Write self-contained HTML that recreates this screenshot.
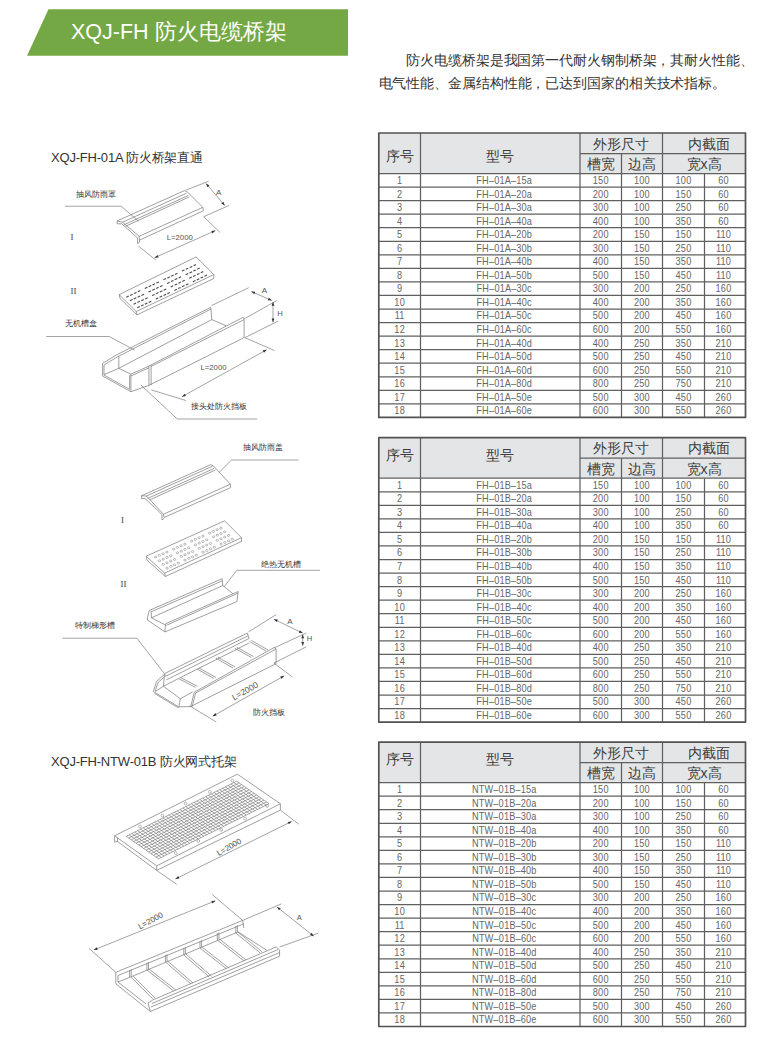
<!DOCTYPE html>
<html><head><meta charset="utf-8">
<style>
html,body{margin:0;padding:0;background:#fff;}
body{width:780px;height:1040px;position:relative;overflow:hidden;font-family:"Liberation Sans",sans-serif;}
.banner{position:absolute;left:0;top:0;}
.title{position:absolute;left:71px;top:17px;font-size:21.5px;color:#fff;white-space:nowrap;letter-spacing:0;}
.intro{position:absolute;left:378.5px;top:49.3px;width:400px;font-size:14px;letter-spacing:-0.1px;line-height:23px;color:#333;}
.intro p{margin:0;white-space:nowrap;}
.sec{position:absolute;left:51px;font-size:13px;letter-spacing:-0.2px;color:#333;white-space:nowrap;}
svg{position:absolute;left:0;top:0;}
.dr .s{fill:none;stroke:#777;stroke-width:0.7;stroke-linejoin:round;}
.dr .d{fill:none;stroke:#666;stroke-width:0.6;}
.dr .ah{fill:#333;stroke:none;}
.dr .hd{stroke:#4a4a4a;stroke-width:1.1;}
.dr .hc{fill:none;stroke:#777;stroke-width:0.5;}
.dr .g{stroke:#6f6f6f;stroke-width:0.6;}
.dr text{font-family:"Liberation Sans",sans-serif;}
.dr .lb{fill:#333;}
.dr .dl{fill:#555;text-anchor:middle;}
.dr .rn{font-family:"Liberation Serif",serif;fill:#444;}
.tb line{stroke:#606060;stroke-width:1.25;}
.tb .ob{fill:none;stroke:#525252;stroke-width:1.7;stroke-linejoin:round;}
.tb text{font-family:"Liberation Sans",sans-serif;text-anchor:middle;}
.tb .h{font-size:14px;fill:#3d3d3d;}
.tb .d{font-size:10.2px;fill:#666;letter-spacing:0.2px;}
</style></head>
<body>
<svg class="banner" width="780" height="60"><polygon points="48.5,9.2 348,9.2 348,55.7 27,55.7" fill="#74a845"/></svg>
<div class="title">XQJ-FH 防火电缆桥架</div>
<div class="intro"><p style="padding-left:27.8px">防火电缆桥架是我国第一代耐火钢制桥架，其耐火性能、</p><p>电气性能、金属结构性能，已达到国家的相关技术指标。</p></div>
<div class="sec" style="top:149px">XQJ-FH-01A 防火桥架直通</div>
<div class="sec" style="top:753px">XQJ-FH-NTW-01B 防火网式托架</div>
<svg width="780" height="1040">
<g class="dr">
<text class="lb" x="75.5" y="196.5" font-size="7.6">抽风防雨罩</text>
<polyline class="d" points="65.0,206.2 121.2,206.2 138.5,221.2"/>
<text class="rn" x="70.5" y="239.5" font-size="9">I</text>
<polyline class="s" points="117.1,223.8 117.1,221.0 184.4,190.6 187.6,192.2 202.8,207.3 203.4,210.8 139.5,240.1 139.2,236.3 122.5,222.2 117.1,221.0"/>
<line class="s" x1="122.5" y1="222.2" x2="186.5" y2="193.2"/>
<line class="s" x1="123.8" y1="224.8" x2="188.3" y2="195.5"/>
<line class="s" x1="125.5" y1="226.3" x2="189.5" y2="196.8"/>
<line class="s" x1="139.2" y1="236.3" x2="202.8" y2="207.3"/>
<polyline class="s" points="117.1,223.8 121.8,223.8 137.6,238.0 137.6,243.6 139.5,242.2 139.5,240.1"/>
<line class="d" x1="185.8" y1="190.2" x2="208.7" y2="181.2"/>
<line class="d" x1="206.0" y1="183.5" x2="224.8" y2="205.5"/>
<polygon class="ah" points="206.0,183.5 207.4,187.3 209.5,185.5"/>
<polygon class="ah" points="224.8,205.5 223.4,201.7 221.3,203.5"/>
<text class="dl" x="218.75" y="194.7" font-size="8">A</text>
<polyline class="d" points="228.9,205.5 203.7,216.7 219.9,232.4"/>
<line class="d" x1="138.5" y1="246.2" x2="155.8" y2="260.0"/>
<line class="d" x1="154.6" y1="257.7" x2="215.4" y2="230.6"/>
<polygon class="ah" points="154.6,257.7 158.6,257.4 157.5,254.9"/>
<polygon class="ah" points="215.4,230.6 211.4,230.9 212.5,233.4"/>
<text class="dl" x="179.75" y="239.9" font-size="7.8">L=2000</text>
<polygon class="s" points="119.2,294.6 196.2,256.9 213.8,274.6 136.2,311.5"/>
<polyline class="s" points="119.2,294.6 120.0,298.5 137.0,314.8 213.8,278.5 213.8,274.6"/>
<line class="s" x1="136.2" y1="311.5" x2="137.0" y2="314.8"/>
<line class="hd" x1="126.3" y1="297.2" x2="128.8" y2="296.0"/>
<line class="hd" x1="130.1" y1="295.4" x2="132.6" y2="294.2"/>
<line class="hd" x1="134.0" y1="293.6" x2="136.5" y2="292.4"/>
<line class="hd" x1="137.8" y1="291.8" x2="140.3" y2="290.6"/>
<line class="hd" x1="129.9" y1="300.8" x2="132.5" y2="299.6"/>
<line class="hd" x1="133.8" y1="299.0" x2="136.3" y2="297.8"/>
<line class="hd" x1="137.6" y1="297.2" x2="140.1" y2="296.0"/>
<line class="hd" x1="141.4" y1="295.4" x2="144.0" y2="294.2"/>
<line class="hd" x1="133.6" y1="304.3" x2="136.1" y2="303.1"/>
<line class="hd" x1="137.4" y1="302.5" x2="139.9" y2="301.3"/>
<line class="hd" x1="141.3" y1="300.7" x2="143.8" y2="299.5"/>
<line class="hd" x1="145.1" y1="298.9" x2="147.6" y2="297.7"/>
<line class="hd" x1="137.2" y1="307.8" x2="139.8" y2="306.6"/>
<line class="hd" x1="141.1" y1="306.0" x2="143.6" y2="304.8"/>
<line class="hd" x1="144.9" y1="304.2" x2="147.4" y2="303.0"/>
<line class="hd" x1="148.7" y1="302.4" x2="151.3" y2="301.2"/>
<line class="hd" x1="144.8" y1="288.5" x2="147.4" y2="287.3"/>
<line class="hd" x1="148.7" y1="286.7" x2="151.2" y2="285.5"/>
<line class="hd" x1="152.5" y1="284.9" x2="155.1" y2="283.7"/>
<line class="hd" x1="156.4" y1="283.1" x2="158.9" y2="282.0"/>
<line class="hd" x1="148.5" y1="292.1" x2="151.0" y2="290.9"/>
<line class="hd" x1="152.3" y1="290.3" x2="154.9" y2="289.1"/>
<line class="hd" x1="156.2" y1="288.5" x2="158.7" y2="287.3"/>
<line class="hd" x1="160.0" y1="286.7" x2="162.5" y2="285.5"/>
<line class="hd" x1="152.1" y1="295.6" x2="154.7" y2="294.4"/>
<line class="hd" x1="156.0" y1="293.8" x2="158.5" y2="292.6"/>
<line class="hd" x1="159.8" y1="292.0" x2="162.4" y2="290.8"/>
<line class="hd" x1="163.7" y1="290.2" x2="166.2" y2="289.0"/>
<line class="hd" x1="155.8" y1="299.1" x2="158.3" y2="297.9"/>
<line class="hd" x1="159.6" y1="297.3" x2="162.2" y2="296.1"/>
<line class="hd" x1="163.5" y1="295.5" x2="166.0" y2="294.3"/>
<line class="hd" x1="167.3" y1="293.7" x2="169.8" y2="292.5"/>
<line class="hd" x1="163.4" y1="279.8" x2="165.9" y2="278.6"/>
<line class="hd" x1="167.3" y1="278.0" x2="169.8" y2="276.9"/>
<line class="hd" x1="171.1" y1="276.2" x2="173.6" y2="275.1"/>
<line class="hd" x1="174.9" y1="274.4" x2="177.5" y2="273.3"/>
<line class="hd" x1="167.1" y1="283.4" x2="169.6" y2="282.2"/>
<line class="hd" x1="170.9" y1="281.6" x2="173.4" y2="280.4"/>
<line class="hd" x1="174.7" y1="279.8" x2="177.3" y2="278.6"/>
<line class="hd" x1="178.6" y1="278.0" x2="181.1" y2="276.8"/>
<line class="hd" x1="170.7" y1="286.9" x2="173.2" y2="285.7"/>
<line class="hd" x1="174.6" y1="285.1" x2="177.1" y2="283.9"/>
<line class="hd" x1="178.4" y1="283.3" x2="180.9" y2="282.1"/>
<line class="hd" x1="182.2" y1="281.5" x2="184.8" y2="280.3"/>
<line class="hd" x1="174.4" y1="290.4" x2="176.9" y2="289.2"/>
<line class="hd" x1="178.2" y1="288.6" x2="180.7" y2="287.4"/>
<line class="hd" x1="182.0" y1="286.8" x2="184.6" y2="285.6"/>
<line class="hd" x1="185.9" y1="285.0" x2="188.4" y2="283.8"/>
<line class="hd" x1="182.0" y1="271.1" x2="184.5" y2="270.0"/>
<line class="hd" x1="185.8" y1="269.3" x2="188.3" y2="268.2"/>
<line class="hd" x1="189.7" y1="267.5" x2="192.2" y2="266.4"/>
<line class="hd" x1="193.5" y1="265.7" x2="196.0" y2="264.6"/>
<line class="hd" x1="185.6" y1="274.7" x2="188.2" y2="273.5"/>
<line class="hd" x1="189.5" y1="272.9" x2="192.0" y2="271.7"/>
<line class="hd" x1="193.3" y1="271.1" x2="195.8" y2="269.9"/>
<line class="hd" x1="197.1" y1="269.3" x2="199.7" y2="268.1"/>
<line class="hd" x1="189.3" y1="278.2" x2="191.8" y2="277.0"/>
<line class="hd" x1="193.1" y1="276.4" x2="195.6" y2="275.2"/>
<line class="hd" x1="197.0" y1="274.6" x2="199.5" y2="273.4"/>
<line class="hd" x1="200.8" y1="272.8" x2="203.3" y2="271.6"/>
<line class="hd" x1="192.9" y1="281.7" x2="195.5" y2="280.5"/>
<line class="hd" x1="196.8" y1="279.9" x2="199.3" y2="278.7"/>
<line class="hd" x1="200.6" y1="278.1" x2="203.1" y2="276.9"/>
<line class="hd" x1="204.4" y1="276.3" x2="207.0" y2="275.1"/>
<text class="rn" x="70.5" y="293.8" font-size="9">II</text>
<text class="lb" x="64.5" y="326.2" font-size="7.6">无机槽盒</text>
<polyline class="d" points="46.2,336.5 109.2,336.5 134.6,350.0"/>
<polyline class="s" points="102.6,376.0 102.6,363.4 116.5,354.9 210.8,307.3 211.8,319.6 226.2,325.8"/>
<line class="s" x1="104.0" y1="365.0" x2="117.5" y2="356.8"/>
<line class="s" x1="117.5" y1="356.8" x2="211.0" y2="309.0"/>
<line class="s" x1="104.0" y1="365.0" x2="104.0" y2="375.0"/>
<line class="s" x1="118.8" y1="356.2" x2="118.8" y2="368.3"/>
<line class="s" x1="104.0" y1="374.6" x2="118.8" y2="368.3"/>
<line class="s" x1="118.8" y1="368.3" x2="211.8" y2="319.6"/>
<line class="s" x1="118.8" y1="368.3" x2="130.9" y2="374.2"/>
<polyline class="s" points="102.6,376.0 130.9,391.7 148.9,385.4 244.1,337.6 244.1,318.0"/>
<line class="s" x1="104.0" y1="375.0" x2="129.6" y2="389.4"/>
<polyline class="s" points="130.9,391.7 130.9,374.2 148.9,366.1"/>
<line class="s" x1="129.6" y1="389.4" x2="129.6" y2="375.0"/>
<line class="s" x1="130.9" y1="376.0" x2="148.9" y2="367.8"/>
<line class="s" x1="148.9" y1="385.4" x2="148.9" y2="366.1"/>
<line class="s" x1="151.1" y1="385.0" x2="151.1" y2="365.0"/>
<polyline class="s" points="148.9,366.1 242.6,317.6 244.1,318.0"/>
<line class="s" x1="151.1" y1="366.4" x2="244.1" y2="319.6"/>
<line class="d" x1="211.5" y1="305.6" x2="248.7" y2="287.7"/>
<line class="d" x1="244.9" y1="318.5" x2="276.9" y2="300.5"/>
<line class="d" x1="251.3" y1="291.5" x2="271.8" y2="300.5"/>
<polygon class="ah" points="251.3,291.5 254.2,294.3 255.3,291.8"/>
<polygon class="ah" points="271.8,300.5 268.9,297.7 267.8,300.2"/>
<text class="dl" x="264.5" y="293.1" font-size="8">A</text>
<line class="d" x1="273.0" y1="302.0" x2="273.0" y2="322.3"/>
<polygon class="ah" points="273.0,302.0 271.6,305.8 274.4,305.8"/>
<polygon class="ah" points="273.0,322.3 274.4,318.5 271.6,318.5"/>
<line class="d" x1="244.9" y1="337.7" x2="278.2" y2="321.0"/>
<text class="dl" x="279.9" y="315.9" font-size="7.6">H</text>
<line class="d" x1="244.9" y1="337.7" x2="274.4" y2="350.5"/>
<line class="d" x1="151.5" y1="390.0" x2="185.9" y2="400.5"/>
<line class="d" x1="182.0" y1="396.7" x2="266.7" y2="349.7"/>
<polygon class="ah" points="182.0,396.7 186.0,396.1 184.7,393.7"/>
<polygon class="ah" points="266.7,349.7 262.7,350.3 264.0,352.7"/>
<text class="dl" x="213.5" y="369.9" font-size="7.8">L=2000</text>
<text class="lb" x="191" y="409" font-size="7.6">接头处防火挡板</text>
<polyline class="d" points="141.0,385.0 177.2,419.0 257.2,419.0"/>
<text class="lb" x="242.5" y="449.5" font-size="7.6">抽风防雨盖</text>
<polyline class="d" points="298.5,460.0 231.5,460.0 218.8,472.7"/>
<polyline class="s" points="141.5,498.5 141.5,495.8 210.8,464.6 213.5,466.0 230.4,484.2 230.4,487.7 164.0,517.5 163.5,514.2 146.5,496.0 141.5,495.8"/>
<line class="s" x1="146.5" y1="496.0" x2="212.5" y2="466.2"/>
<line class="s" x1="147.5" y1="498.5" x2="214.0" y2="468.5"/>
<line class="s" x1="149.5" y1="500.0" x2="215.5" y2="470.0"/>
<line class="s" x1="163.5" y1="514.2" x2="230.4" y2="484.2"/>
<polyline class="s" points="141.5,498.5 145.0,498.5 162.0,514.5 162.0,520.0 164.0,518.5"/>
<text class="rn" x="121" y="522.5" font-size="9">I</text>
<polygon class="s" points="146.2,556.2 224.6,520.8 241.5,537.7 164.6,573.1"/>
<polyline class="s" points="146.2,556.2 146.9,560.0 165.4,576.5 241.5,541.5 241.5,537.7"/>
<line class="s" x1="164.6" y1="573.1" x2="165.4" y2="576.5"/>
<ellipse class="hc" cx="155.7" cy="557.1" rx="1.2" ry="0.96"/>
<ellipse class="hc" cx="159.4" cy="555.4" rx="1.2" ry="0.96"/>
<ellipse class="hc" cx="163.1" cy="553.8" rx="1.2" ry="0.96"/>
<ellipse class="hc" cx="166.9" cy="552.1" rx="1.2" ry="0.96"/>
<ellipse class="hc" cx="159.5" cy="560.7" rx="1.2" ry="0.96"/>
<ellipse class="hc" cx="163.2" cy="559.1" rx="1.2" ry="0.96"/>
<ellipse class="hc" cx="166.9" cy="557.4" rx="1.2" ry="0.96"/>
<ellipse class="hc" cx="170.7" cy="555.8" rx="1.2" ry="0.96"/>
<ellipse class="hc" cx="163.3" cy="564.4" rx="1.2" ry="0.96"/>
<ellipse class="hc" cx="167.0" cy="562.8" rx="1.2" ry="0.96"/>
<ellipse class="hc" cx="170.7" cy="561.1" rx="1.2" ry="0.96"/>
<ellipse class="hc" cx="174.5" cy="559.5" rx="1.2" ry="0.96"/>
<ellipse class="hc" cx="167.1" cy="568.1" rx="1.2" ry="0.96"/>
<ellipse class="hc" cx="170.8" cy="566.4" rx="1.2" ry="0.96"/>
<ellipse class="hc" cx="174.5" cy="564.8" rx="1.2" ry="0.96"/>
<ellipse class="hc" cx="178.3" cy="563.1" rx="1.2" ry="0.96"/>
<ellipse class="hc" cx="173.7" cy="549.1" rx="1.2" ry="0.96"/>
<ellipse class="hc" cx="177.4" cy="547.4" rx="1.2" ry="0.96"/>
<ellipse class="hc" cx="181.1" cy="545.8" rx="1.2" ry="0.96"/>
<ellipse class="hc" cx="184.9" cy="544.1" rx="1.2" ry="0.96"/>
<ellipse class="hc" cx="177.5" cy="552.8" rx="1.2" ry="0.96"/>
<ellipse class="hc" cx="181.2" cy="551.1" rx="1.2" ry="0.96"/>
<ellipse class="hc" cx="184.9" cy="549.4" rx="1.2" ry="0.96"/>
<ellipse class="hc" cx="188.7" cy="547.8" rx="1.2" ry="0.96"/>
<ellipse class="hc" cx="181.3" cy="556.4" rx="1.2" ry="0.96"/>
<ellipse class="hc" cx="185.0" cy="554.8" rx="1.2" ry="0.96"/>
<ellipse class="hc" cx="188.7" cy="553.1" rx="1.2" ry="0.96"/>
<ellipse class="hc" cx="192.5" cy="551.5" rx="1.2" ry="0.96"/>
<ellipse class="hc" cx="185.1" cy="560.1" rx="1.2" ry="0.96"/>
<ellipse class="hc" cx="188.8" cy="558.4" rx="1.2" ry="0.96"/>
<ellipse class="hc" cx="192.5" cy="556.8" rx="1.2" ry="0.96"/>
<ellipse class="hc" cx="196.3" cy="555.1" rx="1.2" ry="0.96"/>
<ellipse class="hc" cx="191.7" cy="541.1" rx="1.2" ry="0.96"/>
<ellipse class="hc" cx="195.4" cy="539.4" rx="1.2" ry="0.96"/>
<ellipse class="hc" cx="199.1" cy="537.8" rx="1.2" ry="0.96"/>
<ellipse class="hc" cx="202.9" cy="536.1" rx="1.2" ry="0.96"/>
<ellipse class="hc" cx="195.5" cy="544.8" rx="1.2" ry="0.96"/>
<ellipse class="hc" cx="199.2" cy="543.1" rx="1.2" ry="0.96"/>
<ellipse class="hc" cx="202.9" cy="541.5" rx="1.2" ry="0.96"/>
<ellipse class="hc" cx="206.7" cy="539.8" rx="1.2" ry="0.96"/>
<ellipse class="hc" cx="199.3" cy="548.4" rx="1.2" ry="0.96"/>
<ellipse class="hc" cx="203.0" cy="546.8" rx="1.2" ry="0.96"/>
<ellipse class="hc" cx="206.7" cy="545.1" rx="1.2" ry="0.96"/>
<ellipse class="hc" cx="210.5" cy="543.5" rx="1.2" ry="0.96"/>
<ellipse class="hc" cx="203.1" cy="552.1" rx="1.2" ry="0.96"/>
<ellipse class="hc" cx="206.8" cy="550.5" rx="1.2" ry="0.96"/>
<ellipse class="hc" cx="210.5" cy="548.8" rx="1.2" ry="0.96"/>
<ellipse class="hc" cx="214.3" cy="547.2" rx="1.2" ry="0.96"/>
<ellipse class="hc" cx="209.7" cy="533.1" rx="1.2" ry="0.96"/>
<ellipse class="hc" cx="213.4" cy="531.5" rx="1.2" ry="0.96"/>
<ellipse class="hc" cx="217.1" cy="529.8" rx="1.2" ry="0.96"/>
<ellipse class="hc" cx="220.9" cy="528.2" rx="1.2" ry="0.96"/>
<ellipse class="hc" cx="213.5" cy="536.8" rx="1.2" ry="0.96"/>
<ellipse class="hc" cx="217.2" cy="535.1" rx="1.2" ry="0.96"/>
<ellipse class="hc" cx="220.9" cy="533.5" rx="1.2" ry="0.96"/>
<ellipse class="hc" cx="224.7" cy="531.8" rx="1.2" ry="0.96"/>
<ellipse class="hc" cx="217.3" cy="540.4" rx="1.2" ry="0.96"/>
<ellipse class="hc" cx="221.0" cy="538.8" rx="1.2" ry="0.96"/>
<ellipse class="hc" cx="224.7" cy="537.1" rx="1.2" ry="0.96"/>
<ellipse class="hc" cx="228.5" cy="535.5" rx="1.2" ry="0.96"/>
<ellipse class="hc" cx="221.1" cy="544.1" rx="1.2" ry="0.96"/>
<ellipse class="hc" cx="224.8" cy="542.5" rx="1.2" ry="0.96"/>
<ellipse class="hc" cx="228.5" cy="540.8" rx="1.2" ry="0.96"/>
<ellipse class="hc" cx="232.3" cy="539.2" rx="1.2" ry="0.96"/>
<text class="lb" x="261.4" y="566.5" font-size="7.6">绝热无机槽</text>
<polyline class="d" points="320.0,570.3 236.8,570.3 224.1,586.7"/>
<text class="rn" x="120.5" y="586.8" font-size="9">II</text>
<polyline class="s" points="147.4,617.8 149.4,610.4 222.1,578.7 222.8,585.5"/>
<line class="s" x1="150.3" y1="612.2" x2="222.4" y2="580.8"/>
<line class="s" x1="151.4" y1="617.8" x2="222.8" y2="585.5"/>
<line class="s" x1="222.8" y1="585.5" x2="232.9" y2="593.6"/>
<line class="s" x1="151.4" y1="612.5" x2="151.4" y2="617.8"/>
<polyline class="s" points="147.4,617.8 147.4,620.0 164.9,631.9 236.9,601.6 238.2,591.5"/>
<polyline class="s" points="164.9,631.9 165.6,623.8 238.2,591.5"/>
<line class="s" x1="166.5" y1="625.3" x2="238.0" y2="593.2"/>
<line class="s" x1="151.4" y1="617.8" x2="165.6" y2="625.0"/>
<text class="lb" x="75" y="627.7" font-size="7.6">特制梯形槽</text>
<polyline class="d" points="62.4,638.2 136.9,638.2 165.7,675.4"/>
<line class="s" x1="164.7" y1="673.5" x2="247.3" y2="633.1"/>
<line class="s" x1="165.6" y1="676.2" x2="248.2" y2="635.8"/>
<line class="s" x1="166.5" y1="679.8" x2="249.1" y2="638.5"/>
<line class="s" x1="247.3" y1="633.1" x2="249.1" y2="638.5"/>
<line class="s" x1="164.5" y1="674.2" x2="163.4" y2="686.2"/>
<polyline class="s" points="164.5,674.2 156.5,681.5 153.4,691.5 178.8,706.9 180.3,698.8 192.6,691.9"/>
<polyline class="s" points="165.5,676.0 158.0,682.5 155.2,691.2"/>
<line class="s" x1="154.5" y1="693.3" x2="178.5" y2="708.0"/>
<line class="s" x1="163.4" y1="686.2" x2="249.1" y2="643.0"/>
<line class="s" x1="155.3" y1="691.5" x2="163.4" y2="686.2"/>
<line class="s" x1="163.4" y1="686.2" x2="180.3" y2="698.8"/>
<line class="s" x1="178.8" y1="706.9" x2="190.8" y2="706.5"/>
<line class="s" x1="179.1" y1="678.9" x2="195.5" y2="687.3"/>
<line class="s" x1="181.1" y1="677.9" x2="197.5" y2="686.3"/>
<line class="s" x1="197.1" y1="669.0" x2="214.0" y2="678.5"/>
<line class="s" x1="199.1" y1="668.0" x2="216.0" y2="677.5"/>
<line class="s" x1="215.9" y1="658.2" x2="233.0" y2="668.0"/>
<line class="s" x1="217.9" y1="657.2" x2="235.0" y2="667.0"/>
<line class="s" x1="234.8" y1="648.3" x2="251.5" y2="657.5"/>
<line class="s" x1="236.8" y1="647.3" x2="253.5" y2="656.5"/>
<line class="s" x1="249.5" y1="641.5" x2="266.0" y2="651.0"/>
<line class="s" x1="251.5" y1="640.5" x2="268.0" y2="650.0"/>
<polyline class="s" points="194.2,692.3 274.3,647.4 276.1,649.0 276.1,663.6 190.8,706.5 194.2,692.3"/>
<line class="s" x1="195.6" y1="693.0" x2="276.1" y2="649.0"/>
<line class="s" x1="195.6" y1="693.0" x2="192.2" y2="706.5"/>
<line class="d" x1="248.5" y1="631.9" x2="276.2" y2="614.6"/>
<line class="d" x1="273.9" y1="619.2" x2="302.7" y2="633.1"/>
<polygon class="ah" points="273.9,619.2 276.7,622.1 277.9,619.6"/>
<polygon class="ah" points="302.7,633.1 299.9,630.2 298.7,632.7"/>
<text class="dl" x="290" y="623.8" font-size="8">A</text>
<line class="d" x1="273.9" y1="648.0" x2="306.2" y2="633.1"/>
<line class="d" x1="302.7" y1="634.5" x2="302.7" y2="645.8"/>
<polygon class="ah" points="302.7,634.5 301.3,638.3 304.1,638.3"/>
<polygon class="ah" points="302.7,645.8 304.1,642.0 301.3,642.0"/>
<text class="dl" x="309.6" y="641.2" font-size="7.6">H</text>
<line class="d" x1="273.9" y1="663.0" x2="306.2" y2="646.9"/>
<line class="d" x1="273.9" y1="663.0" x2="292.3" y2="676.9"/>
<line class="d" x1="189.6" y1="705.8" x2="216.2" y2="721.9"/>
<line class="d" x1="212.7" y1="716.2" x2="284.2" y2="675.8"/>
<polygon class="ah" points="212.7,716.2 216.7,715.5 215.3,713.1"/>
<polygon class="ah" points="284.2,675.8 280.2,676.5 281.6,678.9"/>
<text class="dl" x="246.5" y="693.5" font-size="8.5" transform="rotate(-29 246.5 693.5)">L=2000</text>
<text class="lb" x="253" y="715.2" font-size="7.6">防火挡板</text>
<polygon class="s" points="114.6,835.8 237.4,774.2 280.4,803.8 156.7,865.8"/>
<polyline class="s" points="114.6,835.8 114.6,842.1 117.5,841.5 156.7,870.4 280.4,810.1 280.4,803.8"/>
<line class="s" x1="156.7" y1="865.8" x2="156.7" y2="870.4"/>
<line class="s" x1="117.5" y1="841.5" x2="117.5" y2="837.5"/>
<line class="g" x1="126.2" y1="836.3" x2="158.5" y2="858.8"/>
<line class="g" x1="129.0" y1="834.9" x2="161.3" y2="857.4"/>
<line class="g" x1="131.9" y1="833.5" x2="164.2" y2="856.0"/>
<line class="g" x1="134.7" y1="832.1" x2="167.0" y2="854.6"/>
<line class="g" x1="137.5" y1="830.6" x2="169.8" y2="853.1"/>
<line class="g" x1="140.4" y1="829.2" x2="172.7" y2="851.7"/>
<line class="g" x1="143.2" y1="827.8" x2="175.5" y2="850.3"/>
<line class="g" x1="146.0" y1="826.4" x2="178.3" y2="848.9"/>
<line class="g" x1="148.9" y1="825.0" x2="181.2" y2="847.5"/>
<line class="g" x1="151.7" y1="823.6" x2="184.0" y2="846.1"/>
<line class="g" x1="154.5" y1="822.2" x2="186.8" y2="844.7"/>
<line class="g" x1="157.4" y1="820.8" x2="189.7" y2="843.3"/>
<line class="g" x1="160.2" y1="819.3" x2="192.5" y2="841.8"/>
<line class="g" x1="163.0" y1="817.9" x2="195.3" y2="840.4"/>
<line class="g" x1="165.9" y1="816.5" x2="198.2" y2="839.0"/>
<line class="g" x1="168.7" y1="815.1" x2="201.0" y2="837.6"/>
<line class="g" x1="171.5" y1="813.7" x2="203.8" y2="836.2"/>
<line class="g" x1="174.4" y1="812.3" x2="206.7" y2="834.8"/>
<line class="g" x1="177.2" y1="810.9" x2="209.5" y2="833.4"/>
<line class="g" x1="180.0" y1="809.5" x2="212.3" y2="832.0"/>
<line class="g" x1="182.9" y1="808.0" x2="215.2" y2="830.5"/>
<line class="g" x1="185.7" y1="806.6" x2="218.0" y2="829.1"/>
<line class="g" x1="188.5" y1="805.2" x2="220.8" y2="827.7"/>
<line class="g" x1="191.4" y1="803.8" x2="223.7" y2="826.3"/>
<line class="g" x1="194.2" y1="802.4" x2="226.5" y2="824.9"/>
<line class="g" x1="197.0" y1="801.0" x2="229.3" y2="823.5"/>
<line class="g" x1="199.9" y1="799.6" x2="232.2" y2="822.1"/>
<line class="g" x1="202.7" y1="798.2" x2="235.0" y2="820.7"/>
<line class="g" x1="205.5" y1="796.7" x2="237.8" y2="819.2"/>
<line class="g" x1="208.4" y1="795.3" x2="240.7" y2="817.8"/>
<line class="g" x1="211.2" y1="793.9" x2="243.5" y2="816.4"/>
<line class="g" x1="214.0" y1="792.5" x2="246.3" y2="815.0"/>
<line class="g" x1="216.9" y1="791.1" x2="249.2" y2="813.6"/>
<line class="g" x1="219.7" y1="789.7" x2="252.0" y2="812.2"/>
<line class="g" x1="222.5" y1="788.3" x2="254.8" y2="810.8"/>
<line class="g" x1="225.4" y1="786.9" x2="257.7" y2="809.4"/>
<line class="g" x1="228.2" y1="785.4" x2="260.5" y2="807.9"/>
<line class="g" x1="231.0" y1="784.0" x2="263.3" y2="806.5"/>
<line class="g" x1="233.9" y1="782.6" x2="266.2" y2="805.1"/>
<line class="g" x1="236.7" y1="781.2" x2="269.0" y2="803.7"/>
<line class="g" x1="126.2" y1="836.3" x2="236.7" y2="781.2"/>
<line class="g" x1="128.7" y1="838.0" x2="239.2" y2="782.9"/>
<line class="g" x1="131.2" y1="839.8" x2="241.7" y2="784.7"/>
<line class="g" x1="133.7" y1="841.5" x2="244.2" y2="786.4"/>
<line class="g" x1="136.1" y1="843.2" x2="246.6" y2="788.1"/>
<line class="g" x1="138.6" y1="845.0" x2="249.1" y2="789.9"/>
<line class="g" x1="141.1" y1="846.7" x2="251.6" y2="791.6"/>
<line class="g" x1="143.6" y1="848.4" x2="254.1" y2="793.3"/>
<line class="g" x1="146.1" y1="850.1" x2="256.6" y2="795.0"/>
<line class="g" x1="148.6" y1="851.9" x2="259.1" y2="796.8"/>
<line class="g" x1="151.0" y1="853.6" x2="261.5" y2="798.5"/>
<line class="g" x1="153.5" y1="855.3" x2="264.0" y2="800.2"/>
<line class="g" x1="156.0" y1="857.1" x2="266.5" y2="802.0"/>
<line class="g" x1="158.5" y1="858.8" x2="269.0" y2="803.7"/>
<circle class="hc" cx="140" cy="826.5" r="1.4"/>
<circle class="hc" cx="162.5" cy="815.6" r="1.4"/>
<circle class="hc" cx="185.6" cy="803.5" r="1.4"/>
<circle class="hc" cx="209.9" cy="791.8" r="1.4"/>
<circle class="hc" cx="232.4" cy="780.5" r="1.4"/>
<circle class="hc" cx="267" cy="805.9" r="1.4"/>
<circle class="hc" cx="245.1" cy="818.6" r="1.4"/>
<circle class="hc" cx="221.2" cy="829.9" r="1.4"/>
<circle class="hc" cx="198.3" cy="841" r="1.4"/>
<circle class="hc" cx="175.8" cy="853.1" r="1.4"/>
<line class="d" x1="156.7" y1="870.4" x2="176.7" y2="884.4"/>
<line class="d" x1="280.4" y1="810.1" x2="298.7" y2="824.2"/>
<line class="d" x1="175.4" y1="879.0" x2="291.7" y2="821.4"/>
<polygon class="ah" points="175.4,879.0 179.4,878.5 178.2,876.1"/>
<polygon class="ah" points="291.7,821.4 287.7,821.9 288.9,824.3"/>
<text class="dl" x="230.4" y="849.4" font-size="8" transform="rotate(-30 230.4 849.4)">L=2000</text>
<line class="s" x1="115.8" y1="972.3" x2="242.7" y2="920.4"/>
<line class="s" x1="118.0" y1="975.5" x2="243.8" y2="923.8"/>
<line class="s" x1="242.7" y1="920.4" x2="243.8" y2="928.0"/>
<line class="s" x1="130.8" y1="976.9" x2="238.1" y2="931.9"/>
<line class="s" x1="238.1" y1="931.9" x2="266.9" y2="950.4"/>
<polyline class="s" points="115.8,972.3 115.8,983.8 150.4,1011.5"/>
<polyline class="s" points="118.0,975.5 118.0,982.0 146.0,1004.0"/>
<line class="s" x1="118.0" y1="982.0" x2="130.8" y2="976.9"/>
<line class="s" x1="129.6" y1="970.0" x2="129.6" y2="977.0"/>
<line class="s" x1="131.2" y1="969.3" x2="131.2" y2="976.3"/>
<line class="s" x1="146.9" y1="963.0" x2="146.9" y2="970.0"/>
<line class="s" x1="148.5" y1="962.3" x2="148.5" y2="969.3"/>
<line class="s" x1="165.4" y1="955.0" x2="165.4" y2="962.0"/>
<line class="s" x1="167.0" y1="954.3" x2="167.0" y2="961.3"/>
<line class="s" x1="183.8" y1="948.0" x2="183.8" y2="955.0"/>
<line class="s" x1="185.4" y1="947.3" x2="185.4" y2="954.3"/>
<line class="s" x1="200.0" y1="941.0" x2="200.0" y2="948.0"/>
<line class="s" x1="201.6" y1="940.3" x2="201.6" y2="947.3"/>
<line class="s" x1="217.3" y1="933.0" x2="217.3" y2="940.0"/>
<line class="s" x1="218.9" y1="932.3" x2="218.9" y2="939.3"/>
<line class="s" x1="235.8" y1="926.0" x2="235.8" y2="933.0"/>
<line class="s" x1="237.4" y1="925.3" x2="237.4" y2="932.3"/>
<line class="s" x1="130.8" y1="976.9" x2="152.7" y2="998.9"/>
<line class="s" x1="133.0" y1="976.0" x2="154.9" y2="998.0"/>
<line class="s" x1="146.9" y1="970.0" x2="173.5" y2="990.8"/>
<line class="s" x1="149.1" y1="969.1" x2="175.7" y2="989.9"/>
<line class="s" x1="165.4" y1="961.9" x2="190.8" y2="983.9"/>
<line class="s" x1="167.6" y1="961.0" x2="193.0" y2="983.0"/>
<line class="s" x1="183.8" y1="955.0" x2="209.2" y2="976.9"/>
<line class="s" x1="186.0" y1="954.1" x2="211.4" y2="976.0"/>
<line class="s" x1="200.0" y1="948.1" x2="226.5" y2="968.8"/>
<line class="s" x1="202.2" y1="947.2" x2="228.7" y2="967.9"/>
<line class="s" x1="217.3" y1="940.0" x2="243.8" y2="960.8"/>
<line class="s" x1="219.5" y1="939.1" x2="246.0" y2="959.9"/>
<line class="s" x1="235.8" y1="933.1" x2="260.0" y2="952.7"/>
<line class="s" x1="238.0" y1="932.2" x2="262.2" y2="951.8"/>
<polyline class="s" points="148.0,1003.0 152.7,1000.0 276.2,946.9 279.6,950.0 279.6,956.2 150.4,1011.5 148.0,1003.0"/>
<line class="s" x1="152.0" y1="1003.5" x2="278.0" y2="949.5"/>
<line class="s" x1="151.0" y1="1007.0" x2="279.6" y2="952.5"/>
<line class="d" x1="115.8" y1="972.3" x2="89.2" y2="948.5"/>
<line class="d" x1="242.7" y1="920.4" x2="212.3" y2="894.6"/>
<line class="d" x1="93.8" y1="950.0" x2="215.4" y2="900.8"/>
<polygon class="ah" points="93.8,950.0 97.8,949.8 96.8,947.3"/>
<polygon class="ah" points="215.4,900.8 211.4,901.0 212.4,903.5"/>
<text class="dl" x="151.8" y="923" font-size="8" transform="rotate(-28.5 151.8 923)">L=2000</text>
<line class="d" x1="242.7" y1="920.4" x2="281.5" y2="903.8"/>
<line class="d" x1="279.6" y1="947.0" x2="318.5" y2="933.1"/>
<line class="d" x1="276.9" y1="906.9" x2="313.8" y2="936.2"/>
<polygon class="ah" points="276.9,906.9 279.0,910.3 280.7,908.2"/>
<polygon class="ah" points="313.8,936.2 311.7,932.8 310.0,934.9"/>
<text class="dl" x="299.4" y="919.6" font-size="7.6">A</text>
</g>
</svg>
<svg class="tb" width="780" height="1040">
<rect x="378.8" y="133.0" width="366.7" height="40.5" fill="#e4e5e7"/>
<line x1="580.0" y1="153.5" x2="745.5" y2="153.5"/>
<line x1="378.8" y1="173.5" x2="745.5" y2="173.5"/>
<line x1="378.8" y1="187.05" x2="745.5" y2="187.05"/>
<line x1="378.8" y1="200.6" x2="745.5" y2="200.6"/>
<line x1="378.8" y1="214.15" x2="745.5" y2="214.15"/>
<line x1="378.8" y1="227.7" x2="745.5" y2="227.7"/>
<line x1="378.8" y1="241.25" x2="745.5" y2="241.25"/>
<line x1="378.8" y1="254.8" x2="745.5" y2="254.8"/>
<line x1="378.8" y1="268.35" x2="745.5" y2="268.35"/>
<line x1="378.8" y1="281.9" x2="745.5" y2="281.9"/>
<line x1="378.8" y1="295.45" x2="745.5" y2="295.45"/>
<line x1="378.8" y1="309.0" x2="745.5" y2="309.0"/>
<line x1="378.8" y1="322.55" x2="745.5" y2="322.55"/>
<line x1="378.8" y1="336.1" x2="745.5" y2="336.1"/>
<line x1="378.8" y1="349.65" x2="745.5" y2="349.65"/>
<line x1="378.8" y1="363.2" x2="745.5" y2="363.2"/>
<line x1="378.8" y1="376.75" x2="745.5" y2="376.75"/>
<line x1="378.8" y1="390.3" x2="745.5" y2="390.3"/>
<line x1="378.8" y1="403.85" x2="745.5" y2="403.85"/>
<line x1="420.5" y1="133.0" x2="420.5" y2="417.4"/>
<line x1="580.0" y1="133.0" x2="580.0" y2="417.4"/>
<line x1="621.5" y1="153.5" x2="621.5" y2="417.4"/>
<line x1="662.5" y1="133.0" x2="662.5" y2="417.4"/>
<line x1="704.5" y1="173.5" x2="704.5" y2="417.4"/>
<rect class="ob" x="378.8" y="133.0" width="366.7" height="284.4"/>
<text class="h" x="399.65" y="160.5">序号</text>
<text class="h" x="500.25" y="160.5">型号</text>
<text class="h" x="621.25" y="148.5">外形尺寸</text>
<text class="h" x="709.0" y="148.5">内截面</text>
<text class="h" x="600.75" y="169.0">槽宽</text>
<text class="h" x="642.0" y="169.0">边高</text>
<text class="h" x="704.0" y="169.0">宽x高</text>
<g transform="scale(0.9,1)">
<text class="d" x="444.06" y="184.0">1</text>
<text class="d" x="560.28" y="184.0">FH–01A–15a</text>
<text class="d" x="667.5" y="184.0">150</text>
<text class="d" x="713.33" y="184.0">100</text>
<text class="d" x="759.44" y="184.0">100</text>
<text class="d" x="803.89" y="184.0">60</text>
<text class="d" x="444.06" y="197.55">2</text>
<text class="d" x="560.28" y="197.55">FH–01A–20a</text>
<text class="d" x="667.5" y="197.55">200</text>
<text class="d" x="713.33" y="197.55">100</text>
<text class="d" x="759.44" y="197.55">150</text>
<text class="d" x="803.89" y="197.55">60</text>
<text class="d" x="444.06" y="211.1">3</text>
<text class="d" x="560.28" y="211.1">FH–01A–30a</text>
<text class="d" x="667.5" y="211.1">300</text>
<text class="d" x="713.33" y="211.1">100</text>
<text class="d" x="759.44" y="211.1">250</text>
<text class="d" x="803.89" y="211.1">60</text>
<text class="d" x="444.06" y="224.65">4</text>
<text class="d" x="560.28" y="224.65">FH–01A–40a</text>
<text class="d" x="667.5" y="224.65">400</text>
<text class="d" x="713.33" y="224.65">100</text>
<text class="d" x="759.44" y="224.65">350</text>
<text class="d" x="803.89" y="224.65">60</text>
<text class="d" x="444.06" y="238.2">5</text>
<text class="d" x="560.28" y="238.2">FH–01A–20b</text>
<text class="d" x="667.5" y="238.2">200</text>
<text class="d" x="713.33" y="238.2">150</text>
<text class="d" x="759.44" y="238.2">150</text>
<text class="d" x="803.89" y="238.2">110</text>
<text class="d" x="444.06" y="251.75">6</text>
<text class="d" x="560.28" y="251.75">FH–01A–30b</text>
<text class="d" x="667.5" y="251.75">300</text>
<text class="d" x="713.33" y="251.75">150</text>
<text class="d" x="759.44" y="251.75">250</text>
<text class="d" x="803.89" y="251.75">110</text>
<text class="d" x="444.06" y="265.3">7</text>
<text class="d" x="560.28" y="265.3">FH–01A–40b</text>
<text class="d" x="667.5" y="265.3">400</text>
<text class="d" x="713.33" y="265.3">150</text>
<text class="d" x="759.44" y="265.3">350</text>
<text class="d" x="803.89" y="265.3">110</text>
<text class="d" x="444.06" y="278.85">8</text>
<text class="d" x="560.28" y="278.85">FH–01A–50b</text>
<text class="d" x="667.5" y="278.85">500</text>
<text class="d" x="713.33" y="278.85">150</text>
<text class="d" x="759.44" y="278.85">450</text>
<text class="d" x="803.89" y="278.85">110</text>
<text class="d" x="444.06" y="292.4">9</text>
<text class="d" x="560.28" y="292.4">FH–01A–30c</text>
<text class="d" x="667.5" y="292.4">300</text>
<text class="d" x="713.33" y="292.4">200</text>
<text class="d" x="759.44" y="292.4">250</text>
<text class="d" x="803.89" y="292.4">160</text>
<text class="d" x="444.06" y="305.95">10</text>
<text class="d" x="560.28" y="305.95">FH–01A–40c</text>
<text class="d" x="667.5" y="305.95">400</text>
<text class="d" x="713.33" y="305.95">200</text>
<text class="d" x="759.44" y="305.95">350</text>
<text class="d" x="803.89" y="305.95">160</text>
<text class="d" x="444.06" y="319.5">11</text>
<text class="d" x="560.28" y="319.5">FH–01A–50c</text>
<text class="d" x="667.5" y="319.5">500</text>
<text class="d" x="713.33" y="319.5">200</text>
<text class="d" x="759.44" y="319.5">450</text>
<text class="d" x="803.89" y="319.5">160</text>
<text class="d" x="444.06" y="333.05">12</text>
<text class="d" x="560.28" y="333.05">FH–01A–60c</text>
<text class="d" x="667.5" y="333.05">600</text>
<text class="d" x="713.33" y="333.05">200</text>
<text class="d" x="759.44" y="333.05">550</text>
<text class="d" x="803.89" y="333.05">160</text>
<text class="d" x="444.06" y="346.6">13</text>
<text class="d" x="560.28" y="346.6">FH–01A–40d</text>
<text class="d" x="667.5" y="346.6">400</text>
<text class="d" x="713.33" y="346.6">250</text>
<text class="d" x="759.44" y="346.6">350</text>
<text class="d" x="803.89" y="346.6">210</text>
<text class="d" x="444.06" y="360.15">14</text>
<text class="d" x="560.28" y="360.15">FH–01A–50d</text>
<text class="d" x="667.5" y="360.15">500</text>
<text class="d" x="713.33" y="360.15">250</text>
<text class="d" x="759.44" y="360.15">450</text>
<text class="d" x="803.89" y="360.15">210</text>
<text class="d" x="444.06" y="373.7">15</text>
<text class="d" x="560.28" y="373.7">FH–01A–60d</text>
<text class="d" x="667.5" y="373.7">600</text>
<text class="d" x="713.33" y="373.7">250</text>
<text class="d" x="759.44" y="373.7">550</text>
<text class="d" x="803.89" y="373.7">210</text>
<text class="d" x="444.06" y="387.25">16</text>
<text class="d" x="560.28" y="387.25">FH–01A–80d</text>
<text class="d" x="667.5" y="387.25">800</text>
<text class="d" x="713.33" y="387.25">250</text>
<text class="d" x="759.44" y="387.25">750</text>
<text class="d" x="803.89" y="387.25">210</text>
<text class="d" x="444.06" y="400.8">17</text>
<text class="d" x="560.28" y="400.8">FH–01A–50e</text>
<text class="d" x="667.5" y="400.8">500</text>
<text class="d" x="713.33" y="400.8">300</text>
<text class="d" x="759.44" y="400.8">450</text>
<text class="d" x="803.89" y="400.8">260</text>
<text class="d" x="444.06" y="414.35">18</text>
<text class="d" x="560.28" y="414.35">FH–01A–60e</text>
<text class="d" x="667.5" y="414.35">600</text>
<text class="d" x="713.33" y="414.35">300</text>
<text class="d" x="759.44" y="414.35">550</text>
<text class="d" x="803.89" y="414.35">260</text>
</g>
<rect x="378.8" y="437.7" width="366.7" height="40.5" fill="#e4e5e7"/>
<line x1="580.0" y1="458.2" x2="745.5" y2="458.2"/>
<line x1="378.8" y1="478.2" x2="745.5" y2="478.2"/>
<line x1="378.8" y1="491.75" x2="745.5" y2="491.75"/>
<line x1="378.8" y1="505.3" x2="745.5" y2="505.3"/>
<line x1="378.8" y1="518.85" x2="745.5" y2="518.85"/>
<line x1="378.8" y1="532.4" x2="745.5" y2="532.4"/>
<line x1="378.8" y1="545.95" x2="745.5" y2="545.95"/>
<line x1="378.8" y1="559.5" x2="745.5" y2="559.5"/>
<line x1="378.8" y1="573.05" x2="745.5" y2="573.05"/>
<line x1="378.8" y1="586.6" x2="745.5" y2="586.6"/>
<line x1="378.8" y1="600.15" x2="745.5" y2="600.15"/>
<line x1="378.8" y1="613.7" x2="745.5" y2="613.7"/>
<line x1="378.8" y1="627.25" x2="745.5" y2="627.25"/>
<line x1="378.8" y1="640.8" x2="745.5" y2="640.8"/>
<line x1="378.8" y1="654.35" x2="745.5" y2="654.35"/>
<line x1="378.8" y1="667.9" x2="745.5" y2="667.9"/>
<line x1="378.8" y1="681.45" x2="745.5" y2="681.45"/>
<line x1="378.8" y1="695.0" x2="745.5" y2="695.0"/>
<line x1="378.8" y1="708.55" x2="745.5" y2="708.55"/>
<line x1="420.5" y1="437.7" x2="420.5" y2="722.1"/>
<line x1="580.0" y1="437.7" x2="580.0" y2="722.1"/>
<line x1="621.5" y1="458.2" x2="621.5" y2="722.1"/>
<line x1="662.5" y1="437.7" x2="662.5" y2="722.1"/>
<line x1="704.5" y1="478.2" x2="704.5" y2="722.1"/>
<rect class="ob" x="378.8" y="437.7" width="366.7" height="284.4"/>
<text class="h" x="399.65" y="460.0">序号</text>
<text class="h" x="500.25" y="460.0">型号</text>
<text class="h" x="621.25" y="453.2">外形尺寸</text>
<text class="h" x="709.0" y="453.2">内截面</text>
<text class="h" x="600.75" y="473.7">槽宽</text>
<text class="h" x="642.0" y="473.7">边高</text>
<text class="h" x="704.0" y="473.7">宽x高</text>
<g transform="scale(0.9,1)">
<text class="d" x="444.06" y="488.7">1</text>
<text class="d" x="560.28" y="488.7">FH–01B–15a</text>
<text class="d" x="667.5" y="488.7">150</text>
<text class="d" x="713.33" y="488.7">100</text>
<text class="d" x="759.44" y="488.7">100</text>
<text class="d" x="803.89" y="488.7">60</text>
<text class="d" x="444.06" y="502.25">2</text>
<text class="d" x="560.28" y="502.25">FH–01B–20a</text>
<text class="d" x="667.5" y="502.25">200</text>
<text class="d" x="713.33" y="502.25">100</text>
<text class="d" x="759.44" y="502.25">150</text>
<text class="d" x="803.89" y="502.25">60</text>
<text class="d" x="444.06" y="515.8">3</text>
<text class="d" x="560.28" y="515.8">FH–01B–30a</text>
<text class="d" x="667.5" y="515.8">300</text>
<text class="d" x="713.33" y="515.8">100</text>
<text class="d" x="759.44" y="515.8">250</text>
<text class="d" x="803.89" y="515.8">60</text>
<text class="d" x="444.06" y="529.35">4</text>
<text class="d" x="560.28" y="529.35">FH–01B–40a</text>
<text class="d" x="667.5" y="529.35">400</text>
<text class="d" x="713.33" y="529.35">100</text>
<text class="d" x="759.44" y="529.35">350</text>
<text class="d" x="803.89" y="529.35">60</text>
<text class="d" x="444.06" y="542.9">5</text>
<text class="d" x="560.28" y="542.9">FH–01B–20b</text>
<text class="d" x="667.5" y="542.9">200</text>
<text class="d" x="713.33" y="542.9">150</text>
<text class="d" x="759.44" y="542.9">150</text>
<text class="d" x="803.89" y="542.9">110</text>
<text class="d" x="444.06" y="556.45">6</text>
<text class="d" x="560.28" y="556.45">FH–01B–30b</text>
<text class="d" x="667.5" y="556.45">300</text>
<text class="d" x="713.33" y="556.45">150</text>
<text class="d" x="759.44" y="556.45">250</text>
<text class="d" x="803.89" y="556.45">110</text>
<text class="d" x="444.06" y="570.0">7</text>
<text class="d" x="560.28" y="570.0">FH–01B–40b</text>
<text class="d" x="667.5" y="570.0">400</text>
<text class="d" x="713.33" y="570.0">150</text>
<text class="d" x="759.44" y="570.0">350</text>
<text class="d" x="803.89" y="570.0">110</text>
<text class="d" x="444.06" y="583.55">8</text>
<text class="d" x="560.28" y="583.55">FH–01B–50b</text>
<text class="d" x="667.5" y="583.55">500</text>
<text class="d" x="713.33" y="583.55">150</text>
<text class="d" x="759.44" y="583.55">450</text>
<text class="d" x="803.89" y="583.55">110</text>
<text class="d" x="444.06" y="597.1">9</text>
<text class="d" x="560.28" y="597.1">FH–01B–30c</text>
<text class="d" x="667.5" y="597.1">300</text>
<text class="d" x="713.33" y="597.1">200</text>
<text class="d" x="759.44" y="597.1">250</text>
<text class="d" x="803.89" y="597.1">160</text>
<text class="d" x="444.06" y="610.65">10</text>
<text class="d" x="560.28" y="610.65">FH–01B–40c</text>
<text class="d" x="667.5" y="610.65">400</text>
<text class="d" x="713.33" y="610.65">200</text>
<text class="d" x="759.44" y="610.65">350</text>
<text class="d" x="803.89" y="610.65">160</text>
<text class="d" x="444.06" y="624.2">11</text>
<text class="d" x="560.28" y="624.2">FH–01B–50c</text>
<text class="d" x="667.5" y="624.2">500</text>
<text class="d" x="713.33" y="624.2">200</text>
<text class="d" x="759.44" y="624.2">450</text>
<text class="d" x="803.89" y="624.2">160</text>
<text class="d" x="444.06" y="637.75">12</text>
<text class="d" x="560.28" y="637.75">FH–01B–60c</text>
<text class="d" x="667.5" y="637.75">600</text>
<text class="d" x="713.33" y="637.75">200</text>
<text class="d" x="759.44" y="637.75">550</text>
<text class="d" x="803.89" y="637.75">160</text>
<text class="d" x="444.06" y="651.3">13</text>
<text class="d" x="560.28" y="651.3">FH–01B–40d</text>
<text class="d" x="667.5" y="651.3">400</text>
<text class="d" x="713.33" y="651.3">250</text>
<text class="d" x="759.44" y="651.3">350</text>
<text class="d" x="803.89" y="651.3">210</text>
<text class="d" x="444.06" y="664.85">14</text>
<text class="d" x="560.28" y="664.85">FH–01B–50d</text>
<text class="d" x="667.5" y="664.85">500</text>
<text class="d" x="713.33" y="664.85">250</text>
<text class="d" x="759.44" y="664.85">450</text>
<text class="d" x="803.89" y="664.85">210</text>
<text class="d" x="444.06" y="678.4">15</text>
<text class="d" x="560.28" y="678.4">FH–01B–60d</text>
<text class="d" x="667.5" y="678.4">600</text>
<text class="d" x="713.33" y="678.4">250</text>
<text class="d" x="759.44" y="678.4">550</text>
<text class="d" x="803.89" y="678.4">210</text>
<text class="d" x="444.06" y="691.95">16</text>
<text class="d" x="560.28" y="691.95">FH–01B–80d</text>
<text class="d" x="667.5" y="691.95">800</text>
<text class="d" x="713.33" y="691.95">250</text>
<text class="d" x="759.44" y="691.95">750</text>
<text class="d" x="803.89" y="691.95">210</text>
<text class="d" x="444.06" y="705.5">17</text>
<text class="d" x="560.28" y="705.5">FH–01B–50e</text>
<text class="d" x="667.5" y="705.5">500</text>
<text class="d" x="713.33" y="705.5">300</text>
<text class="d" x="759.44" y="705.5">450</text>
<text class="d" x="803.89" y="705.5">260</text>
<text class="d" x="444.06" y="719.05">18</text>
<text class="d" x="560.28" y="719.05">FH–01B–60e</text>
<text class="d" x="667.5" y="719.05">600</text>
<text class="d" x="713.33" y="719.05">300</text>
<text class="d" x="759.44" y="719.05">550</text>
<text class="d" x="803.89" y="719.05">260</text>
</g>
<rect x="378.8" y="742.1" width="366.7" height="40.5" fill="#e4e5e7"/>
<line x1="580.0" y1="762.6" x2="745.5" y2="762.6"/>
<line x1="378.8" y1="782.6" x2="745.5" y2="782.6"/>
<line x1="378.8" y1="796.15" x2="745.5" y2="796.15"/>
<line x1="378.8" y1="809.7" x2="745.5" y2="809.7"/>
<line x1="378.8" y1="823.25" x2="745.5" y2="823.25"/>
<line x1="378.8" y1="836.8" x2="745.5" y2="836.8"/>
<line x1="378.8" y1="850.35" x2="745.5" y2="850.35"/>
<line x1="378.8" y1="863.9" x2="745.5" y2="863.9"/>
<line x1="378.8" y1="877.45" x2="745.5" y2="877.45"/>
<line x1="378.8" y1="891.0" x2="745.5" y2="891.0"/>
<line x1="378.8" y1="904.55" x2="745.5" y2="904.55"/>
<line x1="378.8" y1="918.1" x2="745.5" y2="918.1"/>
<line x1="378.8" y1="931.65" x2="745.5" y2="931.65"/>
<line x1="378.8" y1="945.2" x2="745.5" y2="945.2"/>
<line x1="378.8" y1="958.75" x2="745.5" y2="958.75"/>
<line x1="378.8" y1="972.3" x2="745.5" y2="972.3"/>
<line x1="378.8" y1="985.85" x2="745.5" y2="985.85"/>
<line x1="378.8" y1="999.4" x2="745.5" y2="999.4"/>
<line x1="378.8" y1="1012.95" x2="745.5" y2="1012.95"/>
<line x1="420.5" y1="742.1" x2="420.5" y2="1026.5"/>
<line x1="580.0" y1="742.1" x2="580.0" y2="1026.5"/>
<line x1="621.5" y1="762.6" x2="621.5" y2="1026.5"/>
<line x1="662.5" y1="742.1" x2="662.5" y2="1026.5"/>
<line x1="704.5" y1="782.6" x2="704.5" y2="1026.5"/>
<rect class="ob" x="378.8" y="742.1" width="366.7" height="284.4"/>
<text class="h" x="399.65" y="764.4">序号</text>
<text class="h" x="500.25" y="764.4">型号</text>
<text class="h" x="621.25" y="757.6">外形尺寸</text>
<text class="h" x="709.0" y="757.6">内截面</text>
<text class="h" x="600.75" y="778.1">槽宽</text>
<text class="h" x="642.0" y="778.1">边高</text>
<text class="h" x="704.0" y="778.1">宽x高</text>
<g transform="scale(0.9,1)">
<text class="d" x="444.06" y="793.1">1</text>
<text class="d" x="560.28" y="793.1">NTW–01B–15a</text>
<text class="d" x="667.5" y="793.1">150</text>
<text class="d" x="713.33" y="793.1">100</text>
<text class="d" x="759.44" y="793.1">100</text>
<text class="d" x="803.89" y="793.1">60</text>
<text class="d" x="444.06" y="806.65">2</text>
<text class="d" x="560.28" y="806.65">NTW–01B–20a</text>
<text class="d" x="667.5" y="806.65">200</text>
<text class="d" x="713.33" y="806.65">100</text>
<text class="d" x="759.44" y="806.65">150</text>
<text class="d" x="803.89" y="806.65">60</text>
<text class="d" x="444.06" y="820.2">3</text>
<text class="d" x="560.28" y="820.2">NTW–01B–30a</text>
<text class="d" x="667.5" y="820.2">300</text>
<text class="d" x="713.33" y="820.2">100</text>
<text class="d" x="759.44" y="820.2">250</text>
<text class="d" x="803.89" y="820.2">60</text>
<text class="d" x="444.06" y="833.75">4</text>
<text class="d" x="560.28" y="833.75">NTW–01B–40a</text>
<text class="d" x="667.5" y="833.75">400</text>
<text class="d" x="713.33" y="833.75">100</text>
<text class="d" x="759.44" y="833.75">350</text>
<text class="d" x="803.89" y="833.75">60</text>
<text class="d" x="444.06" y="847.3">5</text>
<text class="d" x="560.28" y="847.3">NTW–01B–20b</text>
<text class="d" x="667.5" y="847.3">200</text>
<text class="d" x="713.33" y="847.3">150</text>
<text class="d" x="759.44" y="847.3">150</text>
<text class="d" x="803.89" y="847.3">110</text>
<text class="d" x="444.06" y="860.85">6</text>
<text class="d" x="560.28" y="860.85">NTW–01B–30b</text>
<text class="d" x="667.5" y="860.85">300</text>
<text class="d" x="713.33" y="860.85">150</text>
<text class="d" x="759.44" y="860.85">250</text>
<text class="d" x="803.89" y="860.85">110</text>
<text class="d" x="444.06" y="874.4">7</text>
<text class="d" x="560.28" y="874.4">NTW–01B–40b</text>
<text class="d" x="667.5" y="874.4">400</text>
<text class="d" x="713.33" y="874.4">150</text>
<text class="d" x="759.44" y="874.4">350</text>
<text class="d" x="803.89" y="874.4">110</text>
<text class="d" x="444.06" y="887.95">8</text>
<text class="d" x="560.28" y="887.95">NTW–01B–50b</text>
<text class="d" x="667.5" y="887.95">500</text>
<text class="d" x="713.33" y="887.95">150</text>
<text class="d" x="759.44" y="887.95">450</text>
<text class="d" x="803.89" y="887.95">110</text>
<text class="d" x="444.06" y="901.5">9</text>
<text class="d" x="560.28" y="901.5">NTW–01B–30c</text>
<text class="d" x="667.5" y="901.5">300</text>
<text class="d" x="713.33" y="901.5">200</text>
<text class="d" x="759.44" y="901.5">250</text>
<text class="d" x="803.89" y="901.5">160</text>
<text class="d" x="444.06" y="915.05">10</text>
<text class="d" x="560.28" y="915.05">NTW–01B–40c</text>
<text class="d" x="667.5" y="915.05">400</text>
<text class="d" x="713.33" y="915.05">200</text>
<text class="d" x="759.44" y="915.05">350</text>
<text class="d" x="803.89" y="915.05">160</text>
<text class="d" x="444.06" y="928.6">11</text>
<text class="d" x="560.28" y="928.6">NTW–01B–50c</text>
<text class="d" x="667.5" y="928.6">500</text>
<text class="d" x="713.33" y="928.6">200</text>
<text class="d" x="759.44" y="928.6">450</text>
<text class="d" x="803.89" y="928.6">160</text>
<text class="d" x="444.06" y="942.15">12</text>
<text class="d" x="560.28" y="942.15">NTW–01B–60c</text>
<text class="d" x="667.5" y="942.15">600</text>
<text class="d" x="713.33" y="942.15">200</text>
<text class="d" x="759.44" y="942.15">550</text>
<text class="d" x="803.89" y="942.15">160</text>
<text class="d" x="444.06" y="955.7">13</text>
<text class="d" x="560.28" y="955.7">NTW–01B–40d</text>
<text class="d" x="667.5" y="955.7">400</text>
<text class="d" x="713.33" y="955.7">250</text>
<text class="d" x="759.44" y="955.7">350</text>
<text class="d" x="803.89" y="955.7">210</text>
<text class="d" x="444.06" y="969.25">14</text>
<text class="d" x="560.28" y="969.25">NTW–01B–50d</text>
<text class="d" x="667.5" y="969.25">500</text>
<text class="d" x="713.33" y="969.25">250</text>
<text class="d" x="759.44" y="969.25">450</text>
<text class="d" x="803.89" y="969.25">210</text>
<text class="d" x="444.06" y="982.8">15</text>
<text class="d" x="560.28" y="982.8">NTW–01B–60d</text>
<text class="d" x="667.5" y="982.8">600</text>
<text class="d" x="713.33" y="982.8">250</text>
<text class="d" x="759.44" y="982.8">550</text>
<text class="d" x="803.89" y="982.8">210</text>
<text class="d" x="444.06" y="996.35">16</text>
<text class="d" x="560.28" y="996.35">NTW–01B–80d</text>
<text class="d" x="667.5" y="996.35">800</text>
<text class="d" x="713.33" y="996.35">250</text>
<text class="d" x="759.44" y="996.35">750</text>
<text class="d" x="803.89" y="996.35">210</text>
<text class="d" x="444.06" y="1009.9">17</text>
<text class="d" x="560.28" y="1009.9">NTW–01B–50e</text>
<text class="d" x="667.5" y="1009.9">500</text>
<text class="d" x="713.33" y="1009.9">300</text>
<text class="d" x="759.44" y="1009.9">450</text>
<text class="d" x="803.89" y="1009.9">260</text>
<text class="d" x="444.06" y="1023.45">18</text>
<text class="d" x="560.28" y="1023.45">NTW–01B–60e</text>
<text class="d" x="667.5" y="1023.45">600</text>
<text class="d" x="713.33" y="1023.45">300</text>
<text class="d" x="759.44" y="1023.45">550</text>
<text class="d" x="803.89" y="1023.45">260</text>
</g>
</svg>
</body></html>
